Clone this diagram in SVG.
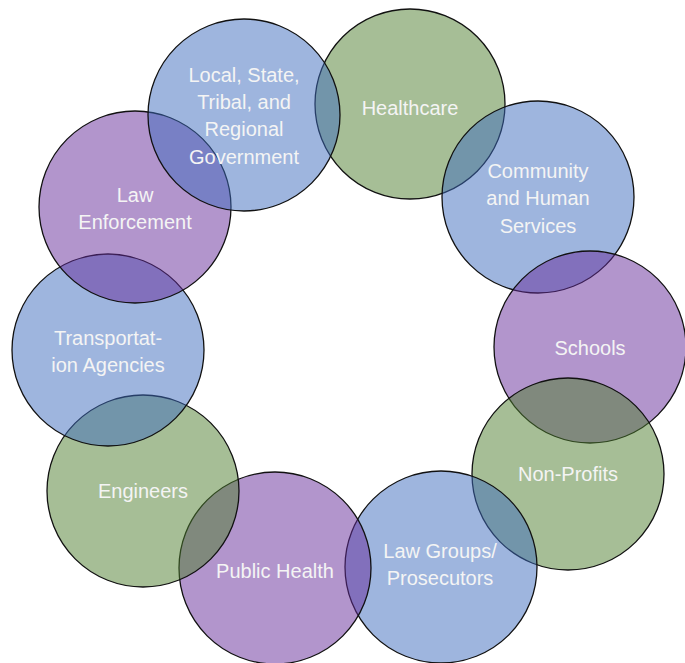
<svg xmlns="http://www.w3.org/2000/svg" width="685" height="663" viewBox="0 0 685 663">
<style>
.c{stroke:#111;stroke-width:1.3;fill-opacity:0.5}
.b{fill:#3d6bbd}
.g{fill:#4d7d2d}
.p{fill:#652b99}
.t{font-family:"Liberation Sans","Open Sans",sans-serif;font-size:20px;fill:#f4f4f4;text-anchor:middle}
</style>
<rect width="685" height="663" fill="#fff"/>
<g id="healthcare"><circle class="c g" cx="410" cy="104" r="95"/></g>
<g id="community"><circle class="c b" cx="538" cy="197" r="96"/></g>
<g id="schools"><circle class="c p" cx="590" cy="347" r="96"/></g>
<g id="nonprofits"><circle class="c g" cx="568" cy="474" r="96"/></g>
<g id="lawgroups"><circle class="c b" cx="441" cy="567" r="96"/></g>
<g id="publichealth"><circle class="c p" cx="275" cy="568" r="96"/></g>
<g id="engineers"><circle class="c g" cx="143" cy="491" r="96"/></g>
<g id="transport"><circle class="c b" cx="108" cy="350" r="96"/></g>
<g id="lawenf"><circle class="c p" cx="135" cy="207" r="96"/></g>
<g id="gov"><circle class="c b" cx="244" cy="115" r="96"/></g>
<g id="labels">
<text class="t" x="244" y="82">Local, State,</text>
<text class="t" x="244" y="109">Tribal, and</text>
<text class="t" x="244" y="136">Regional</text>
<text class="t" x="244" y="164">Government</text>
<text class="t" x="410" y="115">Healthcare</text>
<text class="t" x="538" y="178">Community</text>
<text class="t" x="538" y="205">and Human</text>
<text class="t" x="538" y="233">Services</text>
<text class="t" x="590" y="355">Schools</text>
<text class="t" x="568" y="481">Non-Profits</text>
<text class="t" x="440" y="558">Law Groups/</text>
<text class="t" x="440" y="585">Prosecutors</text>
<text class="t" x="275" y="578">Public Health</text>
<text class="t" x="143" y="498">Engineers</text>
<text class="t" x="108" y="345">Transportat-</text>
<text class="t" x="108" y="372">ion Agencies</text>
<text class="t" x="135" y="202">Law</text>
<text class="t" x="135" y="229">Enforcement</text>
</g>
</svg>
